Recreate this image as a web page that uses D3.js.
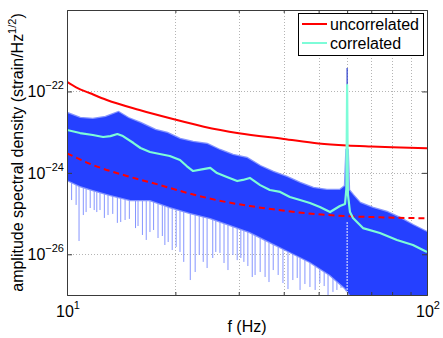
<!DOCTYPE html>
<html>
<head>
<meta charset="utf-8">
<script src="https://cdn.jsdelivr.net/npm/d3@7"></script>
<style>
  body { margin: 0; background: #fff; }
  text { font-family: "Liberation Sans", Arial, Helvetica, sans-serif; }
</style>
</head>
<body>
<script>
// ---- data (Hz, strain/Hz^1/2) ----
const uncorrFreq = [10, 10.6, 11.6, 12.9, 15.9, 19.7, 24, 30, 40, 50, 60, 70, 80, 100];
const uncorrVal  = [1.71e-22, 1.26e-22, 9.0e-23, 6.15e-23, 3.5e-23, 2.1e-23, 1.36e-23, 9.4e-24, 6.8e-24, 5.26e-24, 4.7e-24, 4.44e-24, 4.25e-24, 4.0e-24];

const dashFreq = [10, 11.8, 14.65, 18.1, 21, 26, 32.2, 37.4, 46.3, 56.2, 74, 100];
const dashVal  = [3.02e-24, 1.56e-24, 8.4e-25, 5.03e-25, 3.44e-25, 2.15e-25, 1.53e-25, 1.27e-25, 1.02e-25, 8.9e-26, 8.1e-26, 7.65e-26];

const corrFreq = [10, 10.87, 11.8, 12.6, 13.2, 13.8, 14.3, 15.3, 16, 17, 18.1, 19.3, 20.6, 21.5, 22.4, 23.9, 25, 26.1, 27.8, 29.7, 30.8, 32.2,
                  34.4, 36.6, 39.1, 41.6, 44.4, 47.3, 50.4, 53.8, 57.3, 59.2, 59.7, 60, 60.3, 61.1, 62.3, 66.4, 74, 82.5, 91.4, 100];
const corrVal  = [1.13e-23, 9.5e-24, 8.5e-24, 7.6e-24, 8.0e-24, 9.0e-24, 8.0e-24, 5.4e-24, 4.08e-24, 3.25e-24, 2.9e-24, 2.6e-24, 2.07e-24, 1.47e-24,
                  1.11e-24, 1.24e-24, 1.32e-24, 9.9e-25, 7.9e-25, 6.3e-25, 6.7e-25, 7.5e-25, 5.0e-25, 3.8e-25, 3.4e-25, 2.55e-25, 2.15e-25, 1.82e-25,
                  1.45e-25, 1.09e-25, 1.53e-25, 1.72e-25, 4.0e-25, 1.44e-22, 3.0e-25, 1.09e-25, 7.8e-26, 4.4e-26, 3.33e-26, 2.25e-26, 1.69e-26, 1.14e-26];

// raw spectrum: upper and lower edge of the dense band
const bandTopFreq = [10, 10.87, 11.8, 12.8, 13.9, 14.8, 16, 17.6, 19, 20.6, 22.4, 24.5, 26.6, 28.9, 31.6, 34.4, 37.4, 40.8, 44.4, 48.3, 52.7,
                     57.3, 59.2, 59.75, 60.2, 60.7, 62.3, 65.2, 70.8, 77.4, 84.1, 91.4, 100];
const bandTopVal  = [2.95e-23, 2.22e-23, 2.1e-23, 2.35e-23, 3.12e-23, 2.22e-23, 1.68e-23, 1.13e-23, 9.5e-24, 6.8e-24, 5.73e-24, 5.1e-24, 3.64e-24,
                     2.75e-24, 2.32e-24, 1.47e-24, 1.05e-24, 7.9e-25, 5.64e-25, 4.25e-25, 3.8e-25, 3.8e-25, 4.75e-25, 3.64e-24, 3.64e-24, 3.8e-25,
                     2.86e-25, 1.82e-25, 1.37e-25, 1.09e-25, 7.8e-26, 5.24e-26, 3.52e-26];
const bandLowFreq = [10, 10.87, 11.8, 13.2, 15, 17, 19.3, 22, 25, 28.4, 32.2, 36.6, 41.6, 47.3, 53.8, 59.2, 61.1, 100];
const bandLowVal  = [6.7e-25, 4.75e-25, 3.8e-25, 2.86e-25, 2.15e-25, 2.15e-25, 1.45e-25, 1.03e-25, 7.8e-26, 5.24e-26, 3.52e-26, 2.0e-26,
                     1.14e-26, 6.5e-27, 3.1e-27, 1.49e-27, 1e-27, 1e-27];

// deep downward excursions of the raw spectrum
const dipFreq = [10.3, 10.6, 10.8, 11.1, 11.3, 11.6, 11.9, 12.1, 12.35, 12.7, 13, 13.4, 13.8, 14.1, 14.5, 14.9, 15.5, 15.75, 16.2, 16.6,
                 17, 17.4, 17.9, 18.4, 18.7, 19.1, 19.6, 20.1, 20.6, 21.1, 22, 22.7, 23.3, 23.9, 24.5, 25.4, 25.9, 26.6, 27.3, 28,
                 28.9, 29.7, 30.4, 31, 31.8, 32.7, 33.3, 34.4, 35.5, 36.4, 37.4, 38.6, 39.8, 41.1, 42.4, 43.6, 44.4, 45.8, 47.3, 48.9,
                 50.4, 51.8, 53.1, 54.8, 56.2, 57.7];
const dipVal  = [2.15e-25, 1.63e-25, 2.12e-26, 9.2e-26, 1.09e-25, 1.37e-25, 1.22e-25, 1.09e-25, 1.22e-25, 7.8e-26, 9.2e-26, 9.8e-26, 5.9e-26,
                 6.2e-26, 6.95e-26, 7.4e-26, 4.4e-26, 4.95e-26, 2.98e-26, 2.25e-26, 3.52e-26, 3.95e-26, 2.51e-26, 2.81e-26, 1.69e-26,
                 2.0e-26, 1.27e-26, 1.51e-26, 1.14e-26, 6.5e-27, 2.33e-27, 3.67e-27, 9.6e-27, 6.5e-27, 4.6e-27, 8.1e-27, 1.14e-26,
                 1.08e-26, 6.1e-27, 4.1e-27, 9.6e-27, 7.2e-27, 8.1e-27, 6.5e-27, 5.15e-27, 2.77e-27, 3.1e-27, 3.67e-27, 2.77e-27,
                 2.08e-27, 4.1e-27, 3.1e-27, 1.97e-27, 1.4e-27, 2.33e-27, 2.62e-27, 1.33e-27, 1.86e-27, 1.57e-27, 1.33e-27, 1.97e-27,
                 1.66e-27, 1e-27, 1.19e-27, 1.33e-27, 1.49e-27];

const lineFreq = 60, lineTop = 3.76e-22, lineBase = 3.64e-24, notchTop = 6.2e-26;

const yTicks = [1e-26, 1e-24, 1e-22];
const yTickExp = ["\u221226", "\u221224", "\u221222"];
const xTicks = [10, 100];
const xTickExp = ["1", "2"];
const xMinor = [20, 30, 40, 50, 60, 70, 80, 90];
const seriesNames = ["uncorrelated", "correlated"];

// ---- layout ----
const width = 443, height = 338;
const margin = {top: 10, right: 16, bottom: 43, left: 67};
const blue = "#2540ff", lightBlue = "#8595ff", cyan = "#7dfcd8", red = "#ff0000";

const svg = d3.select("body").append("svg")
  .attr("width", width).attr("height", height);

const x = d3.scaleLog().domain([10, 100]).range([margin.left, width - margin.right]);
const y = d3.scaleLog().domain([1e-27, 1e-20]).range([height - margin.bottom, margin.top]);

svg.append("clipPath").attr("id", "plot")
  .append("rect")
  .attr("x", x.range()[0]).attr("y", y.range()[1])
  .attr("width", x.range()[1] - x.range()[0]).attr("height", y.range()[0] - y.range()[1]);

// grid
const grid = svg.append("g").attr("stroke", "#b4b4b4").attr("stroke-dasharray", "1,2").attr("stroke-width", 1);
grid.selectAll(".gx").data(xMinor).join("line")
  .attr("x1", d => Math.round(x(d)) + 0.5).attr("x2", d => Math.round(x(d)) + 0.5)
  .attr("y1", y.range()[1]).attr("y2", y.range()[0]);
grid.selectAll(".gy").data(yTicks).join("line")
  .attr("y1", d => Math.round(y(d)) + 0.5).attr("y2", d => Math.round(y(d)) + 0.5)
  .attr("x1", x.range()[0]).attr("x2", x.range()[1]);

const plot = svg.append("g").attr("clip-path", "url(#plot)");

// dips (under the band), each starts at the band's lower edge
const lowPts = bandLowFreq.map((f, i) => [f, bandLowVal[i]]);
plot.append("g").selectAll("line").data(dipFreq.map((f, i) => [f, dipVal[i]])).join("line")
  .attr("x1", d => x(d[0])).attr("x2", d => x(d[0]))
  .attr("y1", d => {
    const i = d3.bisector(p => p[0]).right(lowPts, d[0]);
    const a = lowPts[Math.max(0, i - 1)][1], b = lowPts[Math.min(lowPts.length - 1, i)][1];
    return y(Math.max(a, b));
  })
  .attr("y2", d => y(d[1]))
  .attr("stroke", lightBlue).attr("stroke-width", 1);

// raw spectrum band
const bandPts = bandTopFreq.map((f, i) => [f, bandTopVal[i]])
  .concat(lowPts.slice().reverse());
const bandPath = d3.line().x(d => x(d[0])).y(d => y(d[1]))(bandPts) + "Z";
plot.append("path").attr("d", bandPath)
  .attr("fill", "none").attr("stroke", lightBlue).attr("stroke-width", 2.5);
plot.append("path").attr("d", bandPath).attr("fill", blue);

// 60 Hz line and notch
plot.append("line")
  .attr("x1", x(lineFreq)).attr("x2", x(lineFreq))
  .attr("y1", y(lineBase)).attr("y2", y(lineTop))
  .attr("stroke", "#2a3ccc").attr("stroke-width", 1.2);
plot.append("line")
  .attr("x1", x(lineFreq)).attr("x2", x(lineFreq))
  .attr("y1", y(notchTop)).attr("y2", y.range()[0])
  .attr("stroke", "#f4f4ff").attr("stroke-width", 1).attr("stroke-dasharray", "2,1");

const smooth = d3.line().x(d => x(d[0])).y(d => y(d[1])).curve(d3.curveMonotoneX);

plot.append("path")
  .attr("d", smooth(dashFreq.map((f, i) => [f, dashVal[i]])))
  .attr("fill", "none").attr("stroke", red).attr("stroke-width", 2).attr("stroke-dasharray", "6,4");

plot.append("path")
  .attr("d", smooth(uncorrFreq.map((f, i) => [f, uncorrVal[i]])))
  .attr("fill", "none").attr("stroke", red).attr("stroke-width", 2);

plot.append("path")
  .attr("d", d3.line().x(d => x(d[0])).y(d => y(d[1]))(corrFreq.map((f, i) => [f, corrVal[i]])))
  .attr("fill", "none").attr("stroke", cyan).attr("stroke-width", 2.2).attr("stroke-linejoin", "round");

// axes box and ticks
const axisColor = "#3a3a3a";
const axLeft = svg.append("g").attr("transform", `translate(${x.range()[0]},0)`)
  .call(d3.axisLeft(y).tickValues(yTicks).tickSize(-5).tickFormat(""));
const axRight = svg.append("g").attr("transform", `translate(${x.range()[1]},0)`)
  .call(d3.axisRight(y).tickValues(yTicks).tickSize(-5).tickFormat(""));
const axBottom = svg.append("g").attr("transform", `translate(0,${y.range()[0]})`)
  .call(d3.axisBottom(x).tickValues(xMinor).tickSize(-3).tickFormat(""));
const axTop = svg.append("g").attr("transform", `translate(0,${y.range()[1]})`)
  .call(d3.axisTop(x).tickValues(xMinor).tickSize(-3).tickFormat(""));
[axLeft, axRight, axBottom, axTop].forEach(g => {
  g.select(".domain").attr("stroke", axisColor);
  g.selectAll(".tick line").attr("stroke", axisColor);
});

// tick labels
svg.append("g").selectAll("text").data(yTicks).join("text")
  .attr("x", x.range()[0] - 3).attr("y", d => y(d) + 6)
  .attr("text-anchor", "end").attr("font-size", 16)
  .text("10")
  .append("tspan").attr("dy", -8).attr("font-size", 11)
  .text((d, i) => yTickExp[i]);

svg.append("g").selectAll("text").data(xTicks).join("text")
  .attr("x", d => x(d) + 1).attr("y", y.range()[0] + 22)
  .attr("text-anchor", "middle").attr("font-size", 16)
  .text("10")
  .append("tspan").attr("dy", -8).attr("font-size", 11)
  .text((d, i) => xTickExp[i]);

// axis labels
svg.append("text")
  .attr("x", (x.range()[0] + x.range()[1]) / 2).attr("y", 332)
  .attr("text-anchor", "middle").attr("font-size", 16)
  .text("f (Hz)");

const ylab = svg.append("text")
  .attr("transform", `translate(23,${(y.range()[0] + y.range()[1]) / 2}) rotate(-90)`)
  .attr("text-anchor", "middle").attr("font-size", 16);
ylab.append("tspan").text("amplitude spectral density (strain/Hz");
ylab.append("tspan").attr("dy", -7).attr("font-size", 11).text("1/2");
ylab.append("tspan").attr("dy", 7).text(")");

// legend
const legend = svg.append("g").attr("transform", "translate(298,13)");
legend.append("rect").attr("x", 0.5).attr("y", 0.5).attr("width", 125).attr("height", 42)
  .attr("fill", "#fff").attr("stroke", "#000").attr("stroke-width", 1);
const items = legend.selectAll("g.item").data(seriesNames).join("g")
  .attr("class", "item")
  .attr("transform", (d, i) => `translate(0,${11 + i * 19})`);
items.append("line").attr("x1", 4).attr("x2", 29).attr("y1", 0).attr("y2", 0)
  .attr("stroke", (d, i) => i === 0 ? red : cyan).attr("stroke-width", 2);
items.append("text").attr("x", 32).attr("y", 6).attr("font-size", 16).text(d => d);
</script>
</body>
</html>
